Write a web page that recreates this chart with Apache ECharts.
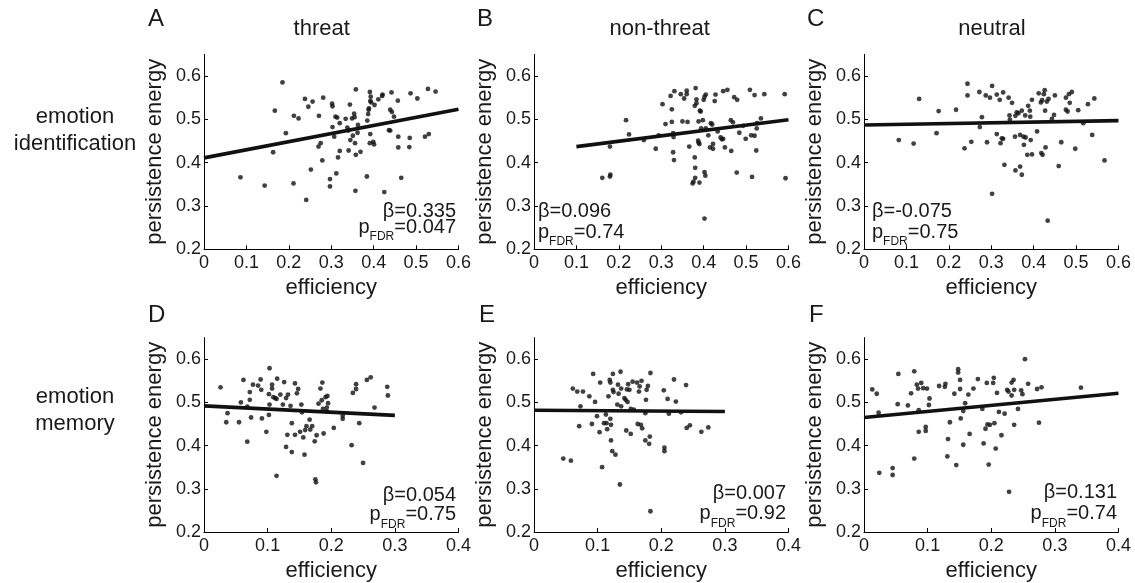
<!DOCTYPE html>
<html>
<head>
<meta charset="utf-8">
<script src="https://cdn.jsdelivr.net/npm/echarts@6/dist/echarts.min.js"></script>
<style>
html,body{margin:0;padding:0;background:#fff;}
#chart{width:1135px;height:583px;}
</style>
</head>
<body>
<div id="chart"></div>
<script>
// ---------- data ----------
const panelLetters = ['A', 'B', 'C', 'D', 'E', 'F'];
const columnTitles = ['threat', 'non-threat', 'neutral'];
const rowLabels = ['emotion\nidentification', 'emotion\nmemory'];
const xAxisName = 'efficiency';
const yAxisName = 'persistence energy';
const yTicks = [0.2, 0.3, 0.4, 0.5, 0.6];
const xMaxTop = 0.6;
const xMaxBottom = 0.4;
const betaLabels = ['0.335', '0.096', '-0.075', '0.054', '0.007', '0.131'];
const pLabels = ['0.047', '0.74', '0.75', '0.75', '0.92', '0.74'];

// Panel A: threat / emotion identification
const aX = [0.086,0.143,0.185,0.167,0.163,0.193,0.212,0.223,0.211,0.238,0.246,0.241,0.256,0.252,0.281,0.271,0.275,0.270,0.279,0.302,0.303,0.303,0.297,0.297,0.312,0.310,0.314,0.320,0.320,0.316,0.307,0.334,0.338,0.340,0.345,0.341,0.344,0.349,0.354,0.355,0.351,0.356,0.358,0.357,0.358,0.362,0.363,0.369,0.384,0.385,0.387,0.388,0.389,0.391,0.392,0.393,0.394,0.392,0.391,0.399,0.401,0.402,0.411,0.420,0.421,0.425,0.442,0.439,0.443,0.448,0.436,0.439,0.457,0.458,0.458,0.465,0.487,0.485,0.484,0.503,0.521,0.530,0.528,0.546];
const aY = [0.366,0.347,0.585,0.520,0.424,0.468,0.508,0.502,0.352,0.547,0.529,0.314,0.541,0.384,0.550,0.508,0.445,0.437,0.405,0.536,0.530,0.482,0.362,0.345,0.375,0.506,0.504,0.491,0.427,0.412,0.460,0.501,0.481,0.474,0.452,0.428,0.534,0.502,0.513,0.505,0.462,0.445,0.418,0.335,0.569,0.469,0.487,0.425,0.368,0.497,0.512,0.522,0.525,0.563,0.542,0.552,0.539,0.466,0.445,0.448,0.442,0.533,0.546,0.554,0.557,0.332,0.562,0.522,0.517,0.506,0.475,0.474,0.543,0.460,0.435,0.365,0.560,0.457,0.436,0.548,0.460,0.466,0.570,0.564];
// Panel B: non-threat / emotion identification
const bX = [0.161,0.179,0.180,0.179,0.217,0.224,0.259,0.287,0.294,0.303,0.310,0.322,0.325,0.325,0.328,0.329,0.328,0.330,0.331,0.346,0.350,0.354,0.360,0.360,0.362,0.366,0.374,0.376,0.379,0.380,0.380,0.381,0.383,0.383,0.379,0.388,0.387,0.388,0.390,0.391,0.393,0.394,0.390,0.398,0.400,0.402,0.405,0.402,0.404,0.402,0.405,0.411,0.415,0.417,0.420,0.422,0.422,0.426,0.428,0.433,0.440,0.443,0.446,0.446,0.450,0.456,0.465,0.464,0.469,0.472,0.479,0.478,0.484,0.493,0.499,0.509,0.512,0.514,0.520,0.520,0.524,0.525,0.526,0.535,0.543,0.591,0.593];
const bY = [0.365,0.437,0.372,0.368,0.498,0.465,0.452,0.432,0.463,0.535,0.489,0.554,0.523,0.494,0.468,0.459,0.424,0.406,0.565,0.558,0.495,0.548,0.566,0.558,0.494,0.437,0.352,0.356,0.412,0.388,0.365,0.572,0.546,0.537,0.531,0.495,0.451,0.446,0.354,0.520,0.518,0.479,0.443,0.498,0.545,0.552,0.557,0.378,0.370,0.271,0.479,0.463,0.435,0.491,0.488,0.443,0.432,0.542,0.557,0.472,0.458,0.454,0.455,0.565,0.435,0.568,0.427,0.498,0.493,0.551,0.545,0.377,0.469,0.485,0.455,0.568,0.463,0.367,0.556,0.462,0.428,0.479,0.491,0.502,0.558,0.558,0.364];
// Panel C: neutral / emotion identification
const cX = [0.082,0.117,0.130,0.171,0.176,0.217,0.237,0.244,0.244,0.253,0.272,0.273,0.278,0.287,0.290,0.297,0.302,0.302,0.313,0.313,0.320,0.322,0.325,0.328,0.328,0.331,0.341,0.343,0.344,0.349,0.356,0.357,0.357,0.360,0.364,0.368,0.368,0.372,0.372,0.376,0.377,0.380,0.381,0.385,0.387,0.391,0.392,0.393,0.396,0.396,0.408,0.412,0.417,0.418,0.421,0.420,0.424,0.426,0.427,0.428,0.431,0.433,0.435,0.443,0.448,0.450,0.459,0.465,0.476,0.476,0.480,0.483,0.485,0.490,0.498,0.505,0.517,0.528,0.538,0.543,0.567];
const cY = [0.452,0.444,0.547,0.468,0.519,0.522,0.433,0.582,0.555,0.448,0.563,0.482,0.505,0.555,0.447,0.550,0.328,0.577,0.557,0.466,0.545,0.445,0.456,0.562,0.455,0.395,0.550,0.509,0.499,0.538,0.460,0.508,0.382,0.516,0.514,0.391,0.464,0.520,0.372,0.460,0.441,0.509,0.458,0.418,0.531,0.520,0.506,0.452,0.545,0.419,0.472,0.560,0.539,0.422,0.418,0.544,0.558,0.567,0.520,0.435,0.541,0.266,0.547,0.501,0.510,0.555,0.392,0.447,0.550,0.522,0.518,0.558,0.538,0.563,0.432,0.521,0.491,0.535,0.464,0.548,0.405];
// Panel D: threat / emotion memory
const dX = [0.026,0.035,0.037,0.055,0.058,0.062,0.068,0.068,0.072,0.072,0.074,0.077,0.085,0.089,0.090,0.091,0.098,0.103,0.102,0.103,0.102,0.107,0.107,0.109,0.112,0.114,0.114,0.115,0.120,0.124,0.126,0.129,0.129,0.131,0.132,0.136,0.138,0.138,0.143,0.143,0.146,0.148,0.151,0.153,0.154,0.156,0.158,0.159,0.161,0.166,0.167,0.170,0.174,0.175,0.176,0.177,0.180,0.183,0.186,0.185,0.187,0.188,0.191,0.194,0.193,0.193,0.195,0.204,0.218,0.218,0.232,0.234,0.239,0.239,0.244,0.250,0.256,0.262,0.268,0.288,0.289];
const dY = [0.535,0.454,0.475,0.454,0.500,0.552,0.409,0.490,0.506,0.524,0.465,0.541,0.539,0.553,0.529,0.463,0.432,0.579,0.519,0.495,0.471,0.541,0.532,0.512,0.510,0.330,0.508,0.555,0.518,0.495,0.547,0.397,0.510,0.425,0.518,0.492,0.452,0.385,0.544,0.425,0.521,0.531,0.432,0.495,0.477,0.419,0.379,0.436,0.445,0.460,0.437,0.445,0.410,0.322,0.315,0.424,0.497,0.532,0.546,0.505,0.485,0.428,0.512,0.515,0.488,0.479,0.498,0.441,0.469,0.462,0.401,0.522,0.542,0.531,0.452,0.360,0.552,0.558,0.488,0.536,0.516];
// Panel E: non-threat / emotion memory
const eX = [0.046,0.058,0.061,0.068,0.071,0.073,0.077,0.087,0.091,0.093,0.096,0.099,0.103,0.104,0.107,0.110,0.113,0.114,0.115,0.117,0.119,0.120,0.120,0.121,0.121,0.123,0.124,0.124,0.125,0.128,0.131,0.132,0.133,0.135,0.136,0.137,0.137,0.142,0.144,0.145,0.146,0.147,0.148,0.150,0.152,0.152,0.155,0.157,0.162,0.163,0.165,0.166,0.168,0.169,0.170,0.175,0.175,0.177,0.176,0.179,0.181,0.182,0.183,0.183,0.204,0.205,0.205,0.210,0.212,0.220,0.223,0.231,0.239,0.240,0.245,0.263,0.274];
const eY = [0.370,0.365,0.532,0.525,0.445,0.491,0.525,0.514,0.450,0.566,0.501,0.468,0.431,0.546,0.350,0.452,0.472,0.452,0.438,0.514,0.552,0.546,0.462,0.448,0.412,0.387,0.566,0.529,0.524,0.379,0.495,0.541,0.520,0.310,0.571,0.532,0.491,0.510,0.506,0.435,0.530,0.501,0.542,0.529,0.427,0.485,0.548,0.483,0.546,0.450,0.525,0.537,0.448,0.550,0.440,0.412,0.475,0.529,0.506,0.538,0.404,0.421,0.568,0.248,0.528,0.395,0.387,0.508,0.474,0.553,0.502,0.477,0.540,0.441,0.447,0.432,0.442];
// Panel F: neutral / emotion memory
const fX = [0.013,0.020,0.023,0.024,0.045,0.045,0.054,0.053,0.069,0.074,0.079,0.079,0.083,0.085,0.086,0.086,0.090,0.093,0.097,0.097,0.099,0.103,0.102,0.118,0.127,0.128,0.131,0.132,0.135,0.142,0.145,0.148,0.148,0.151,0.151,0.152,0.156,0.156,0.159,0.164,0.166,0.172,0.179,0.186,0.188,0.191,0.193,0.194,0.196,0.198,0.203,0.204,0.205,0.207,0.209,0.212,0.216,0.221,0.225,0.227,0.228,0.232,0.232,0.235,0.236,0.236,0.242,0.247,0.249,0.253,0.258,0.272,0.275,0.279,0.341];
const fY = [0.530,0.520,0.476,0.337,0.348,0.332,0.566,0.496,0.493,0.521,0.370,0.572,0.541,0.532,0.482,0.432,0.545,0.533,0.443,0.434,0.532,0.509,0.494,0.538,0.536,0.543,0.375,0.415,0.454,0.520,0.355,0.577,0.569,0.531,0.552,0.463,0.480,0.402,0.498,0.518,0.427,0.532,0.554,0.485,0.405,0.439,0.545,0.449,0.356,0.448,0.545,0.557,0.452,0.393,0.522,0.478,0.424,0.474,0.529,0.525,0.293,0.546,0.516,0.552,0.529,0.448,0.485,0.528,0.519,0.600,0.543,0.531,0.453,0.535,0.534];

// regression lines: [xStart, yStart, xEnd, yEnd]
const fitA = [0.0, 0.411, 0.6, 0.523];
const fitB = [0.1, 0.437, 0.6, 0.499];
const fitC = [0.0, 0.487, 0.6, 0.497];
const fitD = [0.0, 0.492, 0.3, 0.470];
const fitE = [0.0, 0.482, 0.3, 0.479];
const fitF = [0.0, 0.465, 0.4, 0.521];

// ---------- layout ----------
const xsList = [aX, bX, cX, dX, eX, fX];
const ysList = [aY, bY, cY, dY, eY, fY];
const fits = [fitA, fitB, fitC, fitD, fitE, fitF];
const colLeft = [204, 534, 864];
const rowTop = [54.3, 337.6];
const gridW = 254.5;
const gridH = 195;
const FONT = '"Liberation Sans", Arial, Helvetica, sans-serif';
const INK = '#1a1a1a';

const grids = [], xAxes = [], yAxes = [], series = [];
for (let i = 0; i < 6; i++) {
  const r = Math.floor(i / 3), c = i % 3;
  grids.push({ left: colLeft[c], top: rowTop[r], width: gridW, height: gridH, containLabel: false });
  const xMax = r === 0 ? xMaxTop : xMaxBottom;
  xAxes.push({
    gridIndex: i, type: 'value', min: 0, max: xMax, interval: 0.1,
    name: xAxisName, nameLocation: 'middle', nameGap: 28,
    nameTextStyle: { fontSize: 22, color: INK, fontFamily: FONT },
    axisLine: { onZero: false, lineStyle: { color: '#000', width: 1 } },
    axisTick: { inside: true, length: 4, lineStyle: { color: '#000' } },
    axisLabel: { fontSize: 18, color: INK, fontFamily: FONT, margin: 5,
      formatter: v => (Math.abs(v) < 1e-9 ? '0' : (+v).toFixed(1)) },
    splitLine: { show: false }
  });
  yAxes.push({
    gridIndex: i, type: 'value', min: 0.2, max: 0.65,
    name: yAxisName, nameLocation: 'middle', nameGap: 38,
    nameTextStyle: { fontSize: 22, color: INK, fontFamily: FONT },
    axisLine: { onZero: false, lineStyle: { color: '#000', width: 1 } },
    axisTick: { inside: true, length: 4, customValues: yTicks, lineStyle: { color: '#000' } },
    axisLabel: { fontSize: 18, color: INK, fontFamily: FONT, margin: 3, customValues: yTicks,
      formatter: v => (+v).toFixed(1) },
    splitLine: { show: false }
  });
  const pts = xsList[i].map((x, k) => [x, ysList[i][k]]);
  series.push({
    type: 'scatter', xAxisIndex: i, yAxisIndex: i, data: pts,
    symbol: 'circle', symbolSize: 4.8, itemStyle: { color: '#111' }, silent: true
  });
  const f = fits[i];
  series.push({
    type: 'line', xAxisIndex: i, yAxisIndex: i, data: [[f[0], f[1]], [f[2], f[3]]],
    showSymbol: false, symbol: 'none', lineStyle: { color: '#111', width: 3.6 }, silent: true
  });
}

// ---------- text annotations ----------
const graphic = [];
const letterPos = [[148, 19.6], [477, 19.6], [807, 19.6], [148, 315], [479, 315], [809, 315]];
panelLetters.forEach((t, i) => {
  graphic.push({ type: 'text', left: letterPos[i][0], top: letterPos[i][1] - 12,
    style: { text: t, fontSize: 24, fill: INK, fontFamily: FONT } });
});
const titleCx = [321.7, 659.7, 992];
columnTitles.forEach((t, c) => {
  graphic.push({ type: 'text', x: titleCx[c], y: 28.5,
    style: { text: t, fontSize: 22, fill: INK, fontFamily: FONT, align: 'center', verticalAlign: 'middle' } });
});
const rowCy = [130.6, 410.7];
rowLabels.forEach((t, r) => {
  graphic.push({ type: 'text', x: 75, y: rowCy[r],
    style: { text: t, fontSize: 22, lineHeight: 27, fill: INK, fontFamily: FONT, align: 'center', verticalAlign: 'middle' } });
});
// annotation anchors: [x, align, betaBaseline, pBaseline]
const annot = [
  [456, 'right', 218.3, 235],
  [538, 'left', 218.3, 240],
  [872, 'left', 218.3, 240],
  [456, 'right', 502.7, 522.7],
  [786, 'right', 500.7, 521.7],
  [1117, 'right', 499.3, 521.7]
];
annot.forEach((a, i) => {
  graphic.push({ type: 'text', x: a[0], y: a[2] - 7,
    style: { text: 'β=' + betaLabels[i], fontSize: 20, fill: INK, fontFamily: FONT, align: a[1], verticalAlign: 'middle' } });
  graphic.push({ type: 'text', x: a[0], y: a[3] - 18,
    style: { text: '{m|p}{s|FDR}{m|=' + pLabels[i] + '}', align: a[1], verticalAlign: 'top',
      rich: {
        m: { fontSize: 20, lineHeight: 22, verticalAlign: 'top', fill: INK, color: INK, fontFamily: FONT },
        s: { fontSize: 12, lineHeight: 40, verticalAlign: 'middle', fill: INK, color: INK, fontFamily: FONT }
      } } });
});

const chart = echarts.init(document.getElementById('chart'), null, { renderer: 'canvas' });
chart.setOption({
  backgroundColor: '#fff',
  animation: false,
  textStyle: { fontFamily: FONT },
  grid: grids, xAxis: xAxes, yAxis: yAxes, series: series, graphic: graphic
});
</script>
</body>
</html>
